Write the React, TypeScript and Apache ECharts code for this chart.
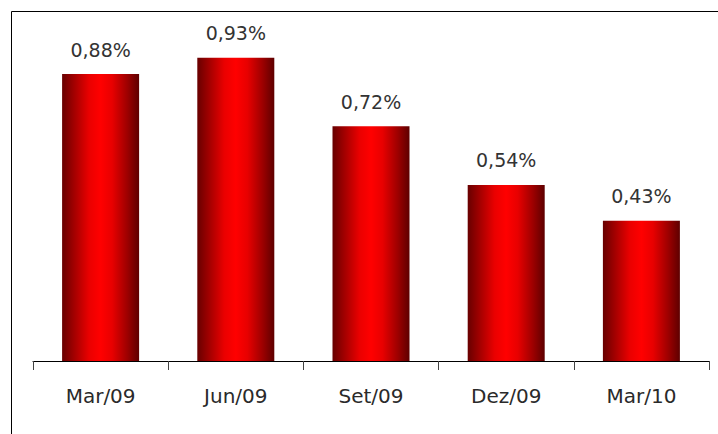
import React, { useEffect, useRef } from "react";
import * as echarts from "echarts";

const categories = ["Mar/09", "Jun/09", "Set/09", "Dez/09", "Mar/10"];
const values = [0.88, 0.93, 0.72, 0.54, 0.43];

export default function App() {
  const ref = useRef<HTMLDivElement>(null);
  useEffect(() => {
    if (!ref.current) return;
    const chart = echarts.init(ref.current, null, { renderer: "svg" });
    const barColor = new echarts.graphic.LinearGradient(0, 0, 1, 0, [
      { offset: 0, color: "#680000" },
      { offset: 0.15, color: "#a00000" },
      { offset: 0.35, color: "#ea0000" },
      { offset: 0.5, color: "#ff0000" },
      { offset: 0.65, color: "#e80000" },
      { offset: 0.85, color: "#9c0000" },
      { offset: 1, color: "#5e0000" },
    ]);
    chart.setOption({
      animation: false,
      backgroundColor: "#ffffff",
      graphic: [
        {
          type: "rect",
          shape: { x: 11.5, y: 11.5, width: 800, height: 600 },
          style: { fill: "none", stroke: "#000", lineWidth: 1 },
          silent: true,
        },
      ],
      grid: { left: 33, right: 9, top: 35, bottom: 73 },
      xAxis: {
        type: "category",
        data: categories,
        axisLine: { lineStyle: { color: "#000", width: 1 } },
        axisTick: { show: true, length: 9, lineStyle: { color: "#444" } },
        axisLabel: {
          color: "#2a2a2a",
          fontFamily: "DejaVu Sans",
          fontSize: 20,
          margin: 25,
        },
      },
      yAxis: {
        type: "value",
        min: 0,
        max: 1,
        show: false,
        splitLine: { show: false },
      },
      series: [
        {
          type: "bar",
          data: values,
          barWidth: 77,
          itemStyle: { color: barColor },
          label: {
            show: true,
            position: "top",
            distance: 15,
            color: "#333",
            fontFamily: "DejaVu Sans",
            fontSize: 19,
            formatter: (p: any) => p.value.toFixed(2).replace(".", ",") + "%",
          },
        },
      ],
    });
    return () => chart.dispose();
  }, []);
  return (
    <div
      ref={ref}
      style={{ position: "fixed", left: 0, top: 0, width: 718, height: 434 }}
    />
  );
}
